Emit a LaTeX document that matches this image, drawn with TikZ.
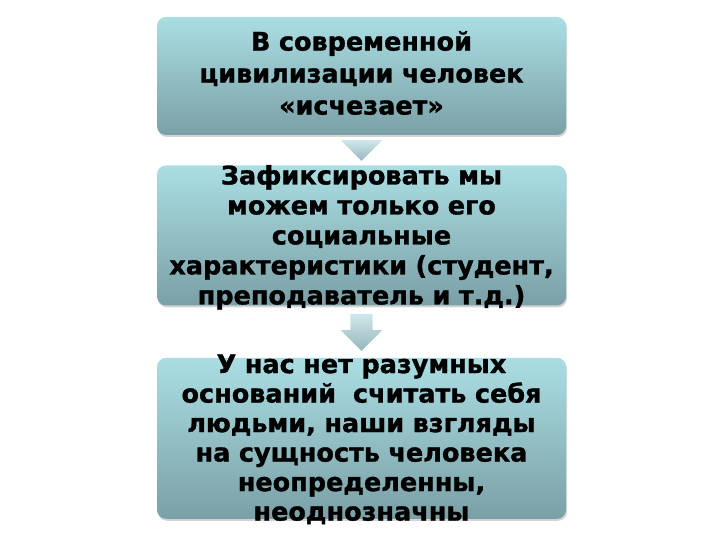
\documentclass[tikz,border=0pt]{standalone}
\usepackage{fontspec}
\setmainfont{DejaVu Sans}[BoldFeatures={FakeBold=1.2}]
\usetikzlibrary{positioning,shapes.arrows,shadows,backgrounds}

\definecolor{boxtop}{RGB}{170,222,227}
\definecolor{boxbot}{RGB}{122,160,166}
\definecolor{arrtop}{RGB}{208,232,236}
\definecolor{arrbot}{RGB}{150,182,188}

\tikzset{
  stepbox/.style={rounded corners=9pt, minimum width=409pt, draw=none,
    top color=boxtop, bottom color=boxbot,
    drop shadow={shadow xshift=1pt, shadow yshift=-2pt, opacity=0.35, fill=black!50}},
  steptext/.style={text width=420pt, align=center, inner sep=0pt,
    font=\fontsize{25.5}{30}\selectfont\bfseries},
  downarrow/.style={single arrow, shape border rotate=270, draw=none, inner sep=11pt,
    single arrow head extend=9.5pt, minimum height=37pt,
    top color=arrtop, bottom color=arrbot}
}

\begin{document}
\begin{tikzpicture}
\useasboundingbox (0,0) rectangle (720pt,540pt);
%----------------------------------
\node[stepbox, minimum height=118pt] (b1) at (361.5pt,464pt) {};
\node[stepbox, minimum height=140pt, below=30pt of b1] (b2) {};
\node[stepbox, minimum height=161pt, below=52pt of b2] (b3) {};
%----------------------------------
\node[steptext, font=\fontsize{25.5}{32}\selectfont\bfseries] (t1) at ([yshift=3pt]b1.center)
  {В современной\\ цивилизации человек\\ «исчезает»};
\node[steptext] (t2) at ([yshift=-2pt]b2.center)
  {Зафиксировать мы\\ можем только его\\ социальные\\ характеристики (студент,\\ преподаватель и т.д.)};
\node[steptext, font=\fontsize{25.5}{29.5}\selectfont\bfseries] (t3) at ([yshift=-1pt]b3.center)
  {У нас нет разумных\\ оснований~ считать себя\\ людьми, наши взгляды\\ на сущность человека\\ неопределенны,\\ неоднозначны};
%----------------------------------
\begin{scope}[on background layer]
\node[downarrow, inner ysep=0pt, minimum height=21pt, anchor=tip] (a1) at ([yshift=-26pt]b1.south) {};
\node[downarrow, below=8pt of b2] (a2) {};
\end{scope}
\end{tikzpicture}
\end{document}
